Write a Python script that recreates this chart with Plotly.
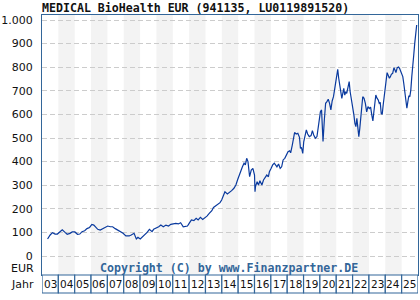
import plotly.graph_objects as go

title_text = "MEDICAL BioHealth EUR (941135, LU0119891520)"
copyright_text = "Copyright (C) by www.Finanzpartner.DE"

years = [
    2003.34, 2003.40, 2003.50, 2003.64, 2003.80, 2003.94, 2004.10, 2004.24, 2004.41, 2004.54,
    2004.71, 2004.85, 2005.01, 2005.17, 2005.31, 2005.45, 2005.61, 2005.75, 2005.91, 2006.05,
    2006.17, 2006.32, 2006.41, 2006.56, 2006.72, 2006.86, 2007.02, 2007.18, 2007.32, 2007.48,
    2007.62, 2007.76, 2007.96, 2008.13, 2008.33, 2008.46, 2008.63, 2008.77, 2008.87, 2009.01,
    2009.17, 2009.31, 2009.43, 2009.57, 2009.73, 2009.83, 2009.97, 2010.14, 2010.27, 2010.42,
    2010.58, 2010.74, 2010.88, 2011.04, 2011.18, 2011.34, 2011.48, 2011.64, 2011.78, 2011.90,
    2012.00, 2012.14, 2012.29, 2012.43, 2012.55, 2012.69, 2012.83, 2012.95, 2013.09, 2013.23,
    2013.39, 2013.49, 2013.63, 2013.75, 2013.89, 2013.99, 2014.09, 2014.19, 2014.34, 2014.46,
    2014.60, 2014.74, 2014.86, 2014.96, 2015.06, 2015.16, 2015.26, 2015.36, 2015.44, 2015.52,
    2015.60, 2015.70, 2015.80, 2015.90, 2016.00, 2016.03, 2016.06, 2016.16, 2016.24, 2016.33,
    2016.45, 2016.55, 2016.65, 2016.75, 2016.85, 2016.91, 2017.01, 2017.11, 2017.21, 2017.31,
    2017.37, 2017.47, 2017.57, 2017.66, 2017.75, 2017.85, 2017.95, 2018.05, 2018.15, 2018.21,
    2018.31, 2018.37, 2018.45, 2018.55, 2018.65, 2018.75, 2018.81, 2018.87, 2018.95, 2019.01,
    2019.07, 2019.17, 2019.25, 2019.35, 2019.46, 2019.54, 2019.62, 2019.72, 2019.82, 2019.92,
    2019.98, 2020.03, 2020.10, 2020.19, 2020.27, 2020.35, 2020.43, 2020.51, 2020.59, 2020.67,
    2020.75, 2020.83, 2020.91, 2020.97, 2021.03, 2021.09, 2021.15, 2021.21, 2021.27, 2021.34,
    2021.40, 2021.46, 2021.52, 2021.58, 2021.64, 2021.72, 2021.79, 2021.85, 2021.94, 2022.00,
    2022.08, 2022.14, 2022.20, 2022.26, 2022.32, 2022.38, 2022.44, 2022.50, 2022.56, 2022.62,
    2022.70, 2022.78, 2022.86, 2022.94, 2023.02, 2023.10, 2023.18, 2023.24, 2023.30, 2023.36,
    2023.42, 2023.50, 2023.57, 2023.63, 2023.69, 2023.75, 2023.81, 2023.87, 2023.93, 2023.99,
    2024.05, 2024.11, 2024.17, 2024.25, 2024.31, 2024.37, 2024.45, 2024.53, 2024.59, 2024.65,
    2024.73, 2024.81, 2024.87, 2024.95, 2025.01, 2025.07, 2025.13, 2025.20, 2025.26, 2025.32,
    2025.38, 2025.44, 2025.50, 2025.56, 2025.62, 2025.68, 2025.74, 2025.80, 2025.86, 2025.92,
]
prices = [
    72, 80, 89, 99, 93, 93, 103, 111, 100, 92,
    96, 102, 102, 92, 93, 103, 107, 116, 121, 134,
    131, 120, 113, 110, 117, 120, 127, 124, 124, 116,
    110, 101, 96, 85, 85, 89, 96, 72, 79, 72,
    82, 89, 100, 113, 103, 113, 117, 124, 131, 124,
    131, 127, 134, 136, 138, 136, 141, 124, 127, 127,
    138, 153, 150, 160, 153, 164, 155, 160, 169, 181,
    192, 206, 212, 220, 226, 237, 258, 272, 263, 268,
    277, 287, 301, 322, 343, 364, 378, 393, 386, 414,
    400, 336, 364, 371, 343, 272, 294, 315, 301, 319,
    301, 322, 336, 343, 336, 357, 371, 386, 393, 386,
    378, 390, 371, 378, 407, 414, 428, 442, 446, 437,
    470, 499, 523, 517, 520, 503, 456, 460, 435, 484,
    506, 534, 517, 506, 510, 531, 513, 499, 506, 555,
    583, 611, 619, 485, 576, 647, 654, 664, 647, 619,
    657, 675, 710, 739, 774, 791, 753, 724, 703, 668,
    689, 710, 682, 696, 689, 710, 739, 696, 661, 625,
    597, 562, 548, 583, 548, 506, 541, 590, 633, 675,
    668, 647, 611, 633, 625, 631, 595, 572, 610, 650,
    682, 668, 661, 647, 651, 604, 600, 640, 682, 717,
    760, 777, 767, 753, 760, 770, 774, 798, 788, 777,
    798, 801, 795, 781, 767, 760, 731, 689, 647, 626,
    654, 679, 675, 703, 760, 795, 852, 901, 936, 979,
]

year_cells = list(range(2003, 2026))
year_labels = [f"{y % 100:02d}" for y in year_cells]
y_ticks = [0, 100, 200, 300, 400, 500, 600, 700, 800, 900, 1000]
y_ticktext = ["0", "100", "200", "300", "400", "500", "600", "700", "800", "900", "1.000"]

W, H = 420, 300
ML, MR, MT, MB = 38, 1, 15, 7
plot_h = H - MT - MB
row_h = 18
dom0 = row_h / plot_h

def py(px):
    return (H - MB - px) / plot_h

blue = "#336699"

fig = go.Figure()
fig.add_trace(go.Scatter(x=years, y=prices, mode="lines",
                         line=dict(color="#0a3a9e", width=1.2),
                         hoverinfo="skip", showlegend=False))

shapes = []
for y in year_cells:
    if y % 2 == 0:
        shapes.append(dict(type="rect", xref="x", yref="y domain", x0=y, x1=y + 1,
                           y0=0, y1=1, fillcolor="#f3f3f3", line=dict(width=0), layer="below"))
for y in year_cells:
    shapes.append(dict(type="rect", xref="x", yref="paper", x0=y, x1=y + 1,
                       y0=0, y1=dom0, fillcolor="white",
                       line=dict(color=blue, width=1.2), layer="above"))

annotations = []
for y, lab in zip(year_cells, year_labels):
    annotations.append(dict(x=y + 0.5, y=dom0 / 2, xref="x", yref="paper", text=lab,
                            showarrow=False, font=dict(family="DejaVu Sans", size=10.5, color="#111"),
                            xanchor="center", yanchor="middle"))
annotations.append(dict(x=0, y=py(268), xref="paper", yref="paper", text="EUR", showarrow=False,
                        xanchor="right", yanchor="middle", xshift=-6,
                        font=dict(family="DejaVu Sans", size=11, color="#111")))
annotations.append(dict(x=0, y=py(284), xref="paper", yref="paper", text="Jahr", showarrow=False,
                        xanchor="right", yanchor="middle", xshift=-6,
                        font=dict(family="DejaVu Sans", size=11, color="#111")))
annotations.append(dict(x=(227 - ML) / (W - ML - MR), y=py(268), xref="paper", yref="paper",
                        text="<b>" + copyright_text + "</b>", showarrow=False,
                        xanchor="center", yanchor="middle",
                        font=dict(family="DejaVu Sans Mono", size=11.6, color=blue)))
annotations.append(dict(x=0, y=py(8.5), xref="paper", yref="paper",
                        text="<b>" + title_text + "</b>", showarrow=False,
                        xanchor="left", yanchor="middle", xshift=-2,
                        font=dict(family="DejaVu Sans Mono", size=11.6, color="#111")))

fig.update_layout(
    width=W, height=H,
    margin=dict(l=ML, r=MR, t=MT, b=MB, pad=0),
    paper_bgcolor="white", plot_bgcolor="white",
    shapes=shapes, annotations=annotations,
    xaxis=dict(range=[2003, 2026], showgrid=False, zeroline=False, showticklabels=False,
               ticks="", showline=True, mirror=True, linecolor=blue, linewidth=1.2),
    yaxis=dict(domain=[dom0, 1], range=[-80.5, 1021.2], tickvals=y_ticks, ticktext=y_ticktext,
               showgrid=True, gridcolor="#cccccc", griddash="5px,3px", gridwidth=1,
               zeroline=False, ticks="", ticklabelstandoff=6,
               tickfont=dict(family="DejaVu Sans", size=11, color="#111"),
               showline=True, mirror=True, linecolor=blue, linewidth=1.2),
)

fig.write_html("out.html")
